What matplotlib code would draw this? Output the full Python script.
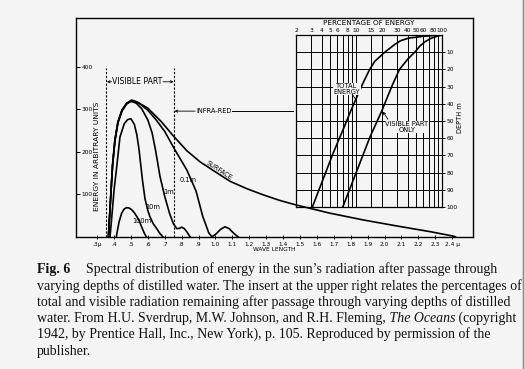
import matplotlib
matplotlib.use("Agg")
import matplotlib.pyplot as plt
from matplotlib.lines import Line2D
from matplotlib.patches import Rectangle

W, H = 525, 369
BG = "#f4f4f4"

# spectral energy (arbitrary units) against wave length (micron)
lam_surface = [0.367, 0.379, 0.391, 0.405, 0.423, 0.447, 0.475, 0.504, 0.534, 0.60, 0.68,
               0.75, 0.83, 0.908, 1.0, 1.086, 1.183, 1.283, 1.38, 1.48, 1.677, 1.875, 2.072,
               2.27, 2.407, 2.42]
e_surface = [2, 87, 169, 228, 271, 299, 315, 322, 318, 303, 271,
             238, 203, 177, 153, 131, 114, 99, 86, 75, 56, 40, 26,
             12.5, 2, 0]

lam_01m = [0.367, 0.379, 0.391, 0.405, 0.423, 0.447, 0.475, 0.504, 0.55, 0.60, 0.65, 0.70,
           0.76, 0.83, 0.885, 0.925, 0.96, 0.978, 1.00, 1.03, 1.056, 1.08, 1.11, 1.135]
e_01m = [2, 86, 168, 227, 270, 298, 314, 320, 314, 298, 275, 248,
         205, 158, 108, 48, 10, 0.5, 6, 18, 24, 20, 8, 0]

lam_1m = [0.367, 0.379, 0.391, 0.405, 0.423, 0.447, 0.475, 0.50, 0.53, 0.563, 0.60, 0.625,
          0.645, 0.672, 0.70, 0.728, 0.75, 0.77, 0.785, 0.80, 0.815, 0.83, 0.85]
e_1m = [2, 85, 166, 225, 268, 296, 313, 319, 315, 302, 275, 245,
        205, 142, 95, 56, 32, 20, 20, 23, 20, 12.5, 0]

lam_10m = [0.376, 0.386, 0.40, 0.415, 0.435, 0.46, 0.48, 0.50, 0.52, 0.535, 0.548, 0.568,
           0.583, 0.60, 0.612, 0.632, 0.652, 0.67, 0.69]
e_10m = [0, 44, 110, 162, 235, 266, 276, 278, 265, 240, 205, 134,
         90, 62, 48, 31, 20, 9, 0]

lam_100m = [0.413, 0.42, 0.43, 0.445, 0.46, 0.475, 0.49, 0.505, 0.52, 0.535, 0.55, 0.565, 0.58, 0.592]
e_100m = [0, 15, 36, 56, 66, 69, 68, 64, 57, 48, 37, 22, 8, 0]

wl_ticks = [0.3, 0.4, 0.5, 0.6, 0.7, 0.8, 0.9, 1.0, 1.1, 1.2, 1.3, 1.4, 1.5, 1.6, 1.7,
            1.8, 1.9, 2.0, 2.1, 2.2, 2.3, 2.4]
wl_labels = [".3\u03bc", ".4", ".5", ".6", ".7", ".8", ".9", "1.0", "1.1", "1.2", "1.3", "1.4",
             "1.5", "1.6", "1.7", "1.8", "1.9", "2.0", "2.1", "2.2", "2.3", "2.4 \u03bc"]
energy_ticks = [100, 200, 300, 400]

# insert: percentage of energy left at each depth (m)
depth_total = [0, 0.3, 0.8, 1.8, 3.3, 5.6, 10, 15.3, 20, 27, 33.7, 44, 54, 68.8, 84.3, 100]
pct_total = [100, 80, 60, 41, 33, 28, 21.6, 16.5, 14.4, 12.3, 10.7, 8.7, 7.2, 5.4, 4.1, 3.1]
depth_visible = [0, 0.3, 1, 2, 3.8, 6.5, 9.6, 14, 20, 29, 37.6, 44, 59, 78.5, 100]
pct_visible = [100, 95, 84, 74, 64, 55, 49, 40, 32, 26.5, 22.5, 20, 14.6, 10.3, 7]

pct_ticks = [2, 3, 4, 5, 6, 8, 10, 15, 20, 30, 40, 50, 60, 80, 100]
pct_minor = [7, 9, 70, 90]
depth_ticks = [10, 20, 30, 40, 50, 60, 70, 80, 90, 100]

fig = plt.figure(figsize=(W / 100, H / 100), dpi=100, facecolor=BG)
fig.add_artist(Rectangle((522 / W, 0), 3 / W, 1, transform=fig.transFigure,
                         facecolor="#e6e6e6", edgecolor="none"))
fig.add_artist(Line2D([522.5 / W] * 2, [0, 1], transform=fig.transFigure, color="#8a8a8a", lw=1))

lab = dict(family="DejaVu Sans", fontsize=4.8, color="black")

# main chart
ax = fig.add_axes([76 / W, 1 - 237 / H, (472.5 - 76) / W, (237 - 18) / H])
ax.set_facecolor("none")
ax.set_xlim(0.175, 2.52)
ax.set_ylim(0, 515)
for s in ax.spines.values():
    s.set_linewidth(1.0)

for lam, e in [(lam_surface, e_surface), (lam_01m, e_01m), (lam_1m, e_1m),
               (lam_10m, e_10m), (lam_100m, e_100m)]:
    ax.plot(lam, e, color="black", lw=1.2, solid_joinstyle="round")

ax.set_xticks(wl_ticks)
ax.set_xticklabels(wl_labels)
ax.tick_params(axis="x", direction="inout", length=3.5, width=0.7, labelsize=4.2, pad=1.5)
ax.set_yticks(energy_ticks)
ax.set_yticklabels([str(v) for v in energy_ticks])
ax.tick_params(axis="y", direction="in", length=3, width=0.7, labelsize=4.2, pad=-4)
for t in ax.get_yticklabels():
    t.set_horizontalalignment("left")
ax.set_xlabel("WAVE LENGTH", fontsize=4.2, labelpad=0.5, family="DejaVu Sans")

ax.text(0.297, 190, "ENERGY IN ARBITRARY UNITS", rotation=90, ha="center", va="center",
        family="DejaVu Sans", fontsize=5.4)

# visible part markers
ax.vlines([0.355, 0.755], 0, 398, colors="black", lw=0.8, linestyles=(0, (2, 1.5)))
ax.text(0.535, 365, "VISIBLE PART", ha="center", va="center", family="DejaVu Sans", fontsize=5.6)
arr = dict(arrowstyle="->", lw=0.6, color="black", mutation_scale=4, shrinkA=0, shrinkB=0)
ax.annotate("", xy=(0.358, 365), xytext=(0.385, 365), arrowprops=arr)
ax.annotate("", xy=(0.752, 365), xytext=(0.69, 365), arrowprops=arr)

ax.text(0.99, 296, "INFRA-RED", ha="center", va="center", **lab)
ax.annotate("", xy=(0.758, 296), xytext=(0.88, 296), arrowprops=arr)
ax.plot([1.10, 1.46], [296, 296], color="black", lw=0.7)

ax.text(1.02, 157, "SURFACE", rotation=-33, ha="center", va="center", **lab)
ax.text(0.84, 134, "0.1m", ha="center", va="center", **lab)
ax.text(0.72, 106, "1m", ha="center", va="center", **lab)
ax.text(0.63, 70, "10m", ha="center", va="center", **lab)
ax.text(0.565, 37, "100m", ha="center", va="center", **lab)

# insert
ax2 = fig.add_axes([296 / W, 1 - 207 / H, 146 / W, 172 / H])
ax2.set_facecolor("none")
ax2.set_xscale("log")
ax2.set_xlim(2, 100)
ax2.set_ylim(100, 0)
for s in ax2.spines.values():
    s.set_linewidth(0.9)
ax2.set_xticks(pct_ticks)
ax2.set_xticklabels([str(v) for v in pct_ticks])
ax2.set_xticks(pct_minor, minor=True)
ax2.set_xticklabels([""] * len(pct_minor), minor=True)
ax2.xaxis.tick_top()
ax2.tick_params(axis="x", which="both", length=0, labelsize=4.2, pad=1.5)
ax2.yaxis.tick_right()
ax2.set_yticks(depth_ticks)
ax2.set_yticklabels([str(v) for v in depth_ticks])
ax2.tick_params(axis="y", direction="out", length=2.5, width=0.7, labelsize=4.2, pad=1)
ax2.grid(True, which="both", color="black", lw=0.7)
ax2.set_axisbelow(True)

ax2.plot(pct_total, depth_total, color="black", lw=1.2)
ax2.plot(pct_visible, depth_visible, color="black", lw=1.2)

ax2.text(0.5, 1.07, "PERCENTAGE OF ENERGY", transform=ax2.transAxes, ha="center", va="center",
         family="DejaVu Sans", fontsize=5.2)
ax2.text(1.12, 0.52, "DEPTH m", transform=ax2.transAxes, rotation=90, ha="center", va="center", **lab)

box = dict(facecolor=BG, edgecolor="none", pad=0.4)
ax2.text(7.8, 31.4, "TOTAL\nENERGY", ha="center", va="center", linespacing=0.9, bbox=box, **lab)
ax2.annotate("", xy=(10.0, 37.8), xytext=(9.0, 34.4),
             arrowprops=dict(arrowstyle="-", lw=0.6, color="black", shrinkA=0, shrinkB=0))
ax2.text(39, 53.5, "VISIBLE PART\nONLY", ha="center", va="center", linespacing=0.9, bbox=box, **lab)
ax2.annotate("", xy=(20.5, 44.5), xytext=(23.5, 49),
             arrowprops=dict(arrowstyle="->", lw=0.6, color="black", mutation_scale=4,
                             shrinkA=0, shrinkB=0))

# caption: (text, weight, style, fixed x start or None)
cap_lines = [
    [("Fig. 6", "bold", "normal", 37),
     ("Spectral distribution of energy in the sun\u2019s radiation after passage through", "normal", "normal", 86)],
    [("varying depths of distilled water. The insert at the upper right relates the percentages of", "normal", "normal", 37)],
    [("total and visible radiation remaining after passage through varying depths of distilled", "normal", "normal", 37)],
    [("water. From H.U. Sverdrup, M.W. Johnson, and R.H. Fleming,", "normal", "normal", 37),
     (" The Oceans", "normal", "italic", None), (" (copyright", "normal", "normal", None)],
    [("1942, by Prentice Hall, Inc., New York), p. 105. Reproduced by permission of the", "normal", "normal", 37)],
    [("publisher.", "normal", "normal", 37)],
]

renderer = fig.canvas.get_renderer()
probe = fig.text(0, 0, cap_lines[1][0][0], fontsize=10, family="Liberation Serif")
cap_size = 10 * 483 / probe.get_window_extent(renderer=renderer).width
probe.remove()

for i, parts in enumerate(cap_lines):
    x = 37
    y = 273.5 + i * 16.2
    for text, weight, style, x_fixed in parts:
        if x_fixed is not None:
            x = x_fixed
        t = fig.text(x / W, 1 - y / H, text, fontsize=cap_size, family="Liberation Serif",
                     fontweight=weight, fontstyle=style, va="baseline", ha="left", color="#111111")
        x += t.get_window_extent(renderer=renderer).width

fig.savefig("out.png", dpi=100, facecolor=BG)
